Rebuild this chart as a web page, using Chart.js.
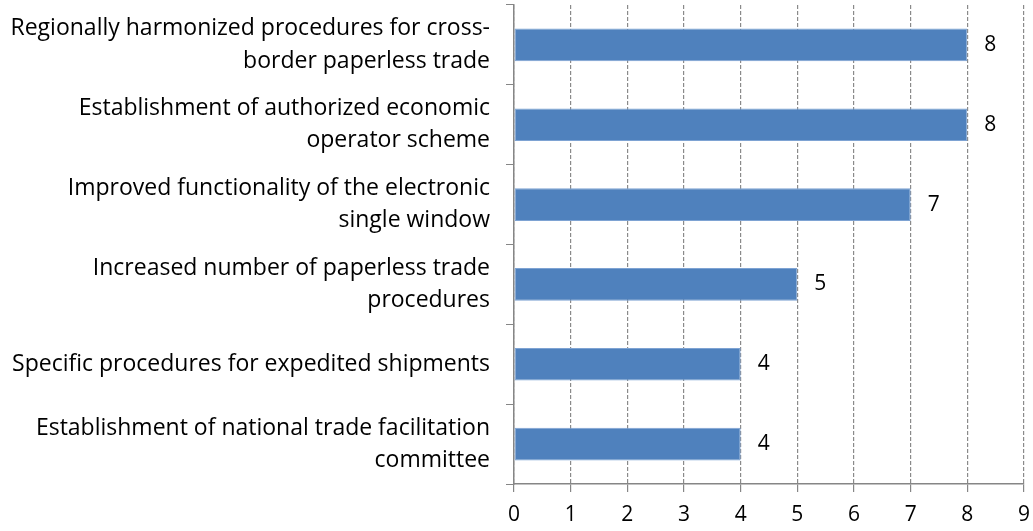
<!DOCTYPE html>
<html>
<head>
<meta charset="utf-8">
<script src="https://cdn.jsdelivr.net/npm/chart.js@4.4.0/dist/chart.umd.min.js"></script>
<style>
  html, body { margin: 0; padding: 0; background: #fff; }
  #wrap { width: 1033px; height: 531px; }
</style>
</head>
<body>
<div id="wrap"><canvas id="myChart" width="1033" height="531"></canvas></div>
<script>
// categories (top to bottom)
const categories = [
    ['Regionally harmonized procedures for cross-', 'border paperless trade'],
    ['Establishment of authorized economic', 'operator scheme'],
    ['Improved functionality of the electronic', 'single window'],
    ['Increased number of paperless trade', 'procedures'],
    ['Specific procedures for expedited shipments'],
    ['Establishment of national trade facilitation', 'committee']
];
const values = [8, 8, 7, 5, 4, 4];
const xTicks = [0, 1, 2, 3, 4, 5, 6, 7, 8, 9];

const fontFamily = "'Open Sans', 'Liberation Sans', sans-serif";

// value labels to the right of each bar
const valueLabels = {
    id: 'valueLabels',
    afterDatasetsDraw(chart) {
        const ctx = chart.ctx;
        const meta = chart.getDatasetMeta(0);
        ctx.save();
        ctx.font = '21px ' + fontFamily;
        ctx.fillStyle = '#000';
        ctx.textAlign = 'left';
        ctx.textBaseline = 'middle';
        meta.data.forEach((bar, i) => {
            ctx.fillText(String(values[i]), bar.x + 17, bar.y);
        });
        ctx.restore();
    }
};

const config = {
    type: 'bar',
    data: {
        labels: categories,
        datasets: [{
            data: values,
            backgroundColor: '#4F81BD',
            borderColor: '#7ea3d3',
            borderWidth: 1,
            borderSkipped: false,
            barPercentage: 0.41,
            categoryPercentage: 1
        }]
    },
    options: {
        indexAxis: 'y',
        responsive: false,
        animation: false,
        layout: { padding: { top: 5, right: 9, left: 0, bottom: 0 } },
        plugins: {
            legend: { display: false },
            tooltip: { enabled: false }
        },
        scales: {
            x: {
                min: 0,
                max: 9,
                afterBuildTicks(scale) {
                    scale.ticks = xTicks.map(v => ({ value: v }));
                },
                afterFit(scale) {
                    scale.height = 47;
                    scale.paddingLeft = 0;
                    scale.paddingRight = 0;
                },
                grid: {
                    color: '#8a8a8a',
                    lineWidth: 1.2,
                    tickLength: 8,
                    tickColor: '#868686',
                    tickBorderDash: []
                },
                border: { color: '#868686', width: 1.5, dash: [4, 2] },
                ticks: {
                    font: { size: 21, family: fontFamily },
                    color: '#000',
                    padding: 10,
                    maxRotation: 0
                }
            },
            y: {
                afterFit(scale) {
                    scale.width = 514;
                    scale.paddingTop = 0;
                    scale.paddingBottom = 0;
                },
                grid: {
                    drawOnChartArea: false,
                    tickLength: 8,
                    tickColor: '#868686',
                    offset: true
                },
                border: { color: '#868686', width: 1.5 },
                ticks: {
                    font: { size: 23, family: fontFamily, lineHeight: 1.4 },
                    color: '#000',
                    padding: 16,
                    crossAlign: 'near',
                    autoSkip: false
                }
            }
        }
    },
    plugins: [valueLabels]
};

new Chart(document.getElementById('myChart'), config);
</script>
</body>
</html>
